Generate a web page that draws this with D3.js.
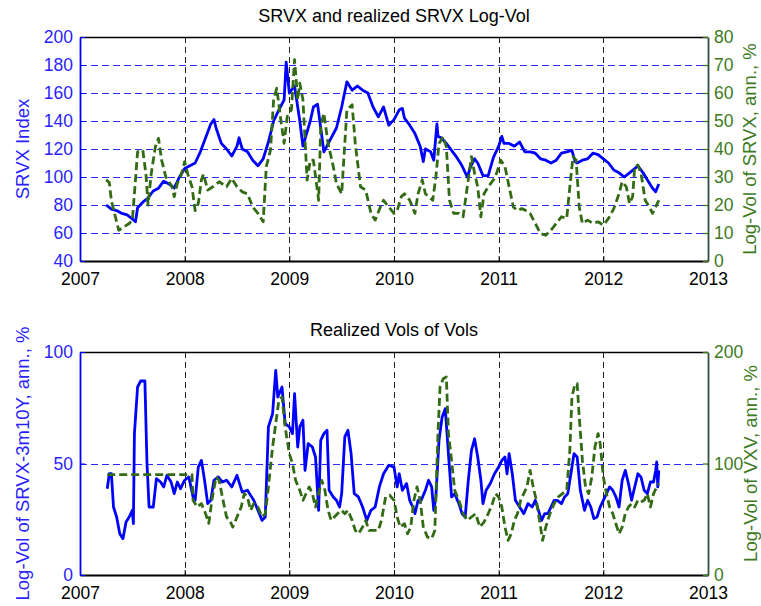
<!DOCTYPE html>
<html><head><meta charset="utf-8">
<script src="https://cdn.jsdelivr.net/npm/d3@7"></script>
<style>
body{margin:0;background:#fff}
svg{display:block}
text{font-family:"Liberation Sans",Arial,Helvetica,sans-serif}
</style>
</head><body>
<svg id="chart" width="761" height="606"></svg>
<script>
// ---------------- DATA ----------------
const yearTicks = [2007, 2008, 2009, 2010, 2011, 2012, 2013];

// Top panel: SRVX index (left axis)
const srvxDates = [2007.25,2007.30,2007.35,2007.40,2007.45,2007.50,2007.53,2007.55,2007.60,2007.65,2007.70,2007.75,2007.80,2007.85,2007.90,2007.95,
2008.00,2008.05,2008.10,2008.15,2008.20,2008.25,2008.28,2008.30,2008.35,2008.40,2008.45,2008.50,2008.52,2008.55,2008.60,2008.65,2008.70,2008.75,2008.80,2008.85,2008.90,2008.95,2008.97,
2009.00,2009.05,2009.10,2009.13,2009.20,2009.23,2009.27,2009.30,2009.33,2009.40,2009.45,2009.50,2009.55,2009.60,2009.65,2009.70,2009.75,2009.80,2009.85,2009.90,2009.95,
2010.00,2010.05,2010.08,2010.10,2010.15,2010.20,2010.25,2010.28,2010.30,2010.35,2010.38,2010.41,2010.42,2010.45,2010.50,2010.55,2010.60,2010.65,2010.70,2010.73,2010.77,2010.80,2010.85,2010.90,2010.95,
2011.00,2011.03,2011.05,2011.10,2011.15,2011.20,2011.25,2011.30,2011.35,2011.40,2011.45,2011.50,2011.55,2011.60,2011.65,2011.70,2011.73,2011.75,2011.80,2011.85,2011.90,2011.95,
2012.00,2012.05,2012.10,2012.15,2012.20,2012.25,2012.30,2012.33,2012.38,2012.42,2012.47,2012.50,2012.53];
const srvxVals = [80,77,76,74,73,70,68,78,82,85,90,92,97,95,92,100,
106,108,110,118,128,138,141,135,124,120,115,122,128,120,118,112,108,113,125,140,148,155,182,
160,165,140,122,140,150,152,135,118,128,135,150,168,162,165,162,160,150,143,150,137,
141,148,149,142,137,131,122,111,120,118,112,138,129,128,124,119,114,108,100,107,113,110,101,101,114,
122,129,124,124,122,125,118,118,117,113,112,110,112,117,118,119,111,110,112,113,117,116,
113,110,105,103,100,103,106,108,103,98,92,89.5,95];

// Top panel: realized SRVX log-vol, % (right axis)
const srvxVolDates = [2007.25,2007.28,2007.30,2007.33,2007.37,2007.42,2007.47,2007.50,2007.53,2007.55,2007.60,2007.63,2007.65,2007.68,2007.72,2007.75,2007.78,2007.82,2007.85,2007.88,2007.90,2007.93,2007.97,
2008.00,2008.03,2008.07,2008.10,2008.13,2008.16,2008.18,2008.22,2008.27,2008.33,2008.40,2008.45,2008.50,2008.55,2008.60,2008.65,2008.70,2008.75,2008.78,2008.82,2008.85,2008.88,2008.91,2008.95,2008.98,
2009.02,2009.05,2009.08,2009.10,2009.13,2009.17,2009.20,2009.23,2009.28,2009.30,2009.33,2009.37,2009.42,2009.45,2009.50,2009.52,2009.55,2009.60,2009.63,2009.68,2009.73,2009.78,2009.82,2009.87,2009.90,2009.95,
2010.00,2010.03,2010.07,2010.10,2010.15,2010.20,2010.23,2010.27,2010.30,2010.33,2010.37,2010.40,2010.43,2010.47,2010.50,2010.53,2010.57,2010.62,2010.66,2010.70,2010.74,2010.77,2010.80,2010.83,2010.86,2010.90,2010.95,2010.98,
2011.02,2011.06,2011.10,2011.14,2011.18,2011.22,2011.26,2011.30,2011.35,2011.40,2011.45,2011.50,2011.55,2011.60,2011.65,2011.68,2011.71,2011.74,2011.77,2011.80,2011.85,2011.90,2011.95,
2012.00,2012.05,2012.10,2012.15,2012.18,2012.22,2012.25,2012.28,2012.30,2012.33,2012.36,2012.40,2012.44,2012.47,2012.50,2012.53];
const srvxVolVals = [29,28,21.5,17,11,12.2,13.4,14.6,29,39,39.6,31,20,31,40.8,43.8,36,30,28.3,26.5,23,27.7,31,
35.5,31,26.5,18,20.5,29,31,25.3,26.5,28.3,26.5,29.5,26.5,24.7,24,19.3,17,14,33.7,39.6,57.6,61.7,52.8,42,51.6,
54,71.9,57.6,63.5,57.6,28.9,36,36,21.7,48,52.8,42,33.7,27.7,24,36,54,55.8,42,26.5,25.3,17,14.6,19.3,21.7,19.3,
17,18,23,24,21.7,17,24,29,24,23,21.7,30,42,44.4,40.8,21.7,17,17,15.8,26.5,37.3,31.3,26.5,15.8,24,26.5,29,31.3,
36,33.7,26.5,19.3,18,18.7,18,17,13.4,9.8,9.2,11,13.4,15.8,15.2,26.5,37.3,36,19.3,13.4,14.6,13.4,14,
12.8,15.2,18.7,24,28.3,26.5,20.5,23,33.7,34.3,31.3,21.7,19.3,17,19.3,21.7];

// Bottom panel: log-vol of SRVX-3m10Y, % (left axis)
const swvDates = [2007.26,2007.28,2007.30,2007.32,2007.35,2007.38,2007.41,2007.44,2007.47,2007.50,2007.51,2007.52,2007.55,2007.58,2007.62,2007.64,2007.66,2007.70,2007.73,2007.77,2007.80,2007.83,2007.87,2007.90,2007.93,2007.96,
2008.00,2008.04,2008.08,2008.10,2008.13,2008.16,2008.19,2008.22,2008.25,2008.28,2008.32,2008.36,2008.40,2008.45,2008.50,2008.55,2008.60,2008.63,2008.66,2008.70,2008.74,2008.77,2008.80,2008.84,2008.87,2008.89,2008.93,2008.96,
2009.00,2009.03,2009.05,2009.08,2009.10,2009.13,2009.15,2009.18,2009.22,2009.25,2009.28,2009.30,2009.33,2009.36,2009.38,2009.42,2009.45,2009.48,2009.50,2009.53,2009.56,2009.59,2009.62,2009.66,2009.70,2009.74,2009.78,2009.82,2009.86,2009.90,2009.95,
2010.00,2010.03,2010.05,2010.08,2010.12,2010.15,2010.18,2010.20,2010.23,2010.26,2010.30,2010.33,2010.36,2010.38,2010.40,2010.43,2010.46,2010.49,2010.52,2010.55,2010.58,2010.62,2010.65,2010.68,2010.71,2010.74,2010.77,2010.80,2010.83,2010.85,2010.88,2010.92,2010.96,
2011.00,2011.03,2011.06,2011.08,2011.10,2011.13,2011.16,2011.20,2011.24,2011.28,2011.32,2011.35,2011.38,2011.41,2011.44,2011.47,2011.50,2011.53,2011.56,2011.60,2011.63,2011.66,2011.69,2011.72,2011.75,2011.78,2011.82,2011.85,2011.88,2011.91,2011.94,2011.97,
2012.00,2012.03,2012.06,2012.09,2012.12,2012.15,2012.18,2012.21,2012.24,2012.27,2012.30,2012.33,2012.36,2012.39,2012.42,2012.45,2012.48,2012.50,2012.51,2012.52,2012.53];
const swvVals = [38.7,45.4,45.4,30.5,26,18.5,16.3,23.8,26,29,23,63.4,84.3,87,87,50,30.5,30.5,43.2,41.7,39.5,44.7,41.7,36.5,41.7,38.7,
42.5,44,35,33.5,48.4,51.4,42.5,32,33.5,42.5,44,41.7,42.5,39.5,44.7,37.2,38,35.7,33.5,29,24.5,26,66.4,72.3,91.8,79.8,84.3,67.9,
66.4,63.4,81.3,57.4,66.4,69.4,46.9,58.9,57.4,52.9,29,60.4,63.4,64.9,38,35,33.5,30.5,36.5,61.9,64.9,54.4,36.5,35,30.5,24.5,29,30.5,39.5,45.4,49.2,
48.4,39.5,45.4,38,41,33.5,30.5,27.5,33.5,33.5,38,42.5,39.5,29,35,60.4,70.9,74.6,54.4,35,36.5,32,27.5,26,42.5,55.9,61.1,52.9,42.5,32,38,41,45.4,
48.4,51.4,52.9,45.4,54.4,45.4,33.5,30.5,27.5,32,30.5,33.5,29,24.5,27.5,27.5,30.5,33.5,33.5,32,35,36.5,45.4,54.4,52.9,38,29,33.5,30.5,25.3,26,30.5,
33.5,36.5,39.5,38,35,30.5,42.5,46.9,41,33.5,39.5,45.4,43.9,38,36.5,41.7,41.7,46.9,50.7,39.5,46.9];

// Bottom panel: log-vol of VXV, % (right axis)
const vxvDates = [2007.26,2008.07,2008.08,2008.12,2008.16,2008.20,2008.23,2008.26,2008.30,2008.33,2008.36,2008.40,2008.43,2008.46,2008.50,2008.54,2008.57,2008.60,2008.63,2008.66,2008.70,2008.74,2008.77,2008.80,2008.84,2008.87,2008.90,2008.93,2008.96,
2009.00,2009.03,2009.06,2009.10,2009.13,2009.16,2009.19,2009.22,2009.25,2009.28,2009.31,2009.34,2009.37,2009.40,2009.43,2009.46,2009.50,2009.53,2009.56,2009.60,2009.63,2009.66,2009.70,2009.73,2009.76,2009.80,2009.85,2009.88,2009.92,2009.96,
2010.00,2010.03,2010.06,2010.10,2010.13,2010.16,2010.19,2010.22,2010.25,2010.28,2010.32,2010.36,2010.39,2010.42,2010.44,2010.47,2010.50,2010.52,2010.55,2010.58,2010.62,2010.66,2010.70,2010.74,2010.78,2010.82,2010.86,2010.90,2010.94,2010.97,
2011.00,2011.03,2011.06,2011.09,2011.12,2011.15,2011.18,2011.21,2011.24,2011.27,2011.30,2011.33,2011.36,2011.39,2011.42,2011.45,2011.49,2011.53,2011.57,2011.61,2011.65,2011.68,2011.70,2011.73,2011.75,2011.77,2011.80,2011.83,2011.86,2011.89,2011.92,2011.95,2011.97,
2012.00,2012.03,2012.06,2012.09,2012.12,2012.15,2012.18,2012.21,2012.24,2012.27,2012.30,2012.33,2012.36,2012.39,2012.42,2012.45,2012.48,2012.51,2012.53];
const vxvVals = [90,90,67,61,64,55,46.3,67,87.9,84.9,70,52,49,43,52,61,73,70,58,64,61,52,55,79,114.8,135.7,156.7,159.6,132.7,
108.8,99.9,84.9,75.9,67,73,79,73,61,73,84.9,75.9,58,49,52,55,58,55,58,49,40,37,43,49,40,40,40,49,70,71.5,
67,52,43,46,37,43,67,79,67,43,34,32.6,40,126.8,168.6,176,177.6,126.8,102.8,75.9,67,55,49,52,55,43,47.5,55,64,73,
70,61,43,31,37,49,55,67,73,79,93.9,79,67,49,31,43,55,64,70,73,75.9,111.8,159.6,171.6,171.6,141.7,102.8,79,73,87.9,114.8,126.8,117.8,
87.9,73,61,55,46,37,43,55,61,64,61,67,65.5,67,73,61,73,79,82];

// ---------------- DRAWING ----------------
const svg = d3.select("#chart");
const BLUE = "#0000ff", BLUE_TXT = "#2a1fff", GREEN_LINE = "#336b14", GREEN_TXT = "#3d7a1e", RAXIS = "#2f4f3f";
const L = 80, R = 708;

function panel(cfg) {
  const g = svg.append("g");
  const x = d3.scaleLinear().domain([2007, 2013]).range([L, R]);
  const yL = d3.scaleLinear().domain(cfg.leftDomain).range([cfg.bottom, cfg.top]);
  const yR = d3.scaleLinear().domain(cfg.rightDomain).range([cfg.bottom, cfg.top]);

  // vertical grid
  g.append("g").selectAll("line").data(yearTicks.slice(1, -1)).join("line")
    .attr("x1", d => Math.round(x(d)) + 0.5).attr("x2", d => Math.round(x(d)) + 0.5)
    .attr("y1", cfg.top).attr("y2", cfg.bottom)
    .attr("stroke", "#222").attr("stroke-width", 1).attr("stroke-dasharray", "6,4");
  // horizontal grid
  g.append("g").selectAll("line").data(cfg.leftGrid).join("line")
    .attr("x1", L).attr("x2", R)
    .attr("y1", d => Math.round(yL(d)) + 0.5).attr("y2", d => Math.round(yL(d)) + 0.5)
    .attr("stroke", "#2a2aff").attr("stroke-width", 1).attr("stroke-dasharray", "7,4");

  // lines
  const lineL = d3.line().x((d, i) => x(cfg.leftDates[i])).y(d => yL(d));
  const lineR = d3.line().x((d, i) => x(cfg.rightDates[i])).y(d => yR(d));
  g.append("path").datum(cfg.leftVals).attr("d", lineL)
    .attr("fill", "none").attr("stroke", BLUE).attr("stroke-width", 2.8)
    .attr("stroke-linejoin", "round");
  g.append("path").datum(cfg.rightVals).attr("d", lineR)
    .attr("fill", "none").attr("stroke", GREEN_LINE).attr("stroke-width", 2.8)
    .attr("stroke-dasharray", "8,4").attr("stroke-linejoin", "round");

  // top border
  g.append("line").attr("x1", L).attr("x2", R).attr("y1", cfg.top + 0.5).attr("y2", cfg.top + 0.5)
    .attr("stroke", "#000").attr("stroke-width", 1.6);

  // bottom axis
  const ax = g.append("g").attr("transform", `translate(0,${cfg.bottom})`)
    .call(d3.axisBottom(x).tickValues(yearTicks).tickFormat(d3.format("d")).tickSize(-5).tickSizeOuter(0).tickPadding(12));
  ax.select(".domain").attr("stroke", "#000").attr("stroke-width", 1.8);
  ax.selectAll(".tick line").attr("stroke", "#000");
  ax.selectAll("text").attr("fill", "#000").attr("font-size", 17.5)
    .attr("font-family", '"Liberation Sans",Arial,sans-serif');

  // left axis
  const al = g.append("g").attr("transform", `translate(${L},0)`)
    .call(d3.axisLeft(yL).tickValues(cfg.leftTicks).tickFormat(d3.format("d")).tickSize(-5).tickSizeOuter(0).tickPadding(7));
  al.select(".domain").attr("stroke", BLUE).attr("stroke-width", 1.8);
  al.selectAll(".tick line").attr("stroke", BLUE);
  al.selectAll("text").attr("fill", BLUE_TXT).attr("font-size", 17.5)
    .attr("font-family", '"Liberation Sans",Arial,sans-serif');

  // right axis
  const ar = g.append("g").attr("transform", `translate(${R},0)`)
    .call(d3.axisRight(yR).tickValues(cfg.rightTicks).tickFormat(d3.format("d")).tickSize(-5).tickSizeOuter(0).tickPadding(6));
  ar.select(".domain").attr("stroke", RAXIS).attr("stroke-width", 1.8);
  ar.selectAll(".tick line").attr("stroke", GREEN_TXT).attr("stroke-width", 1.3);
  ar.selectAll("text").attr("fill", GREEN_TXT).attr("font-size", 17.5)
    .attr("font-family", '"Liberation Sans",Arial,sans-serif');

  // title
  g.append("text").attr("x", (L + R) / 2).attr("y", cfg.titleY).attr("text-anchor", "middle")
    .attr("font-size", 18).attr("fill", "#000").text(cfg.title);
  // axis labels
  const cy = (cfg.top + cfg.bottom) / 2;
  g.append("text").attr("transform", `translate(${cfg.leftLabelX},${cy}) rotate(-90)`)
    .attr("text-anchor", "middle").attr("font-size", 18.5).attr("fill", BLUE_TXT).text(cfg.leftLabel);
  g.append("text").attr("transform", `translate(${cfg.rightLabelX},${cy}) rotate(-90)`)
    .attr("text-anchor", "middle").attr("font-size", 18.5).attr("fill", GREEN_TXT).text(cfg.rightLabel);
}

panel({
  top: 37, bottom: 261, titleY: 22,
  title: "SRVX and realized SRVX Log-Vol",
  leftDomain: [40, 200], leftTicks: [40, 60, 80, 100, 120, 140, 160, 180, 200], leftGrid: [60, 80, 100, 120, 140, 160, 180],
  rightDomain: [0, 80], rightTicks: [0, 10, 20, 30, 40, 50, 60, 70, 80],
  leftDates: srvxDates, leftVals: srvxVals, rightDates: srvxVolDates, rightVals: srvxVolVals,
  leftLabel: "SRVX Index", leftLabelX: 29,
  rightLabel: "Log-Vol of SRVX, ann., %", rightLabelX: 756
});

panel({
  top: 352, bottom: 575, titleY: 336,
  title: "Realized Vols of Vols",
  leftDomain: [0, 100], leftTicks: [0, 50, 100], leftGrid: [50],
  rightDomain: [0, 200], rightTicks: [0, 100, 200],
  leftDates: swvDates, leftVals: swvVals, rightDates: vxvDates, rightVals: vxvVals,
  leftLabel: "Log-Vol of SRVX-3m10Y, ann., %", leftLabelX: 29,
  rightLabel: "Log-Vol of VXV, ann., %", rightLabelX: 757
});
</script>
</body></html>
